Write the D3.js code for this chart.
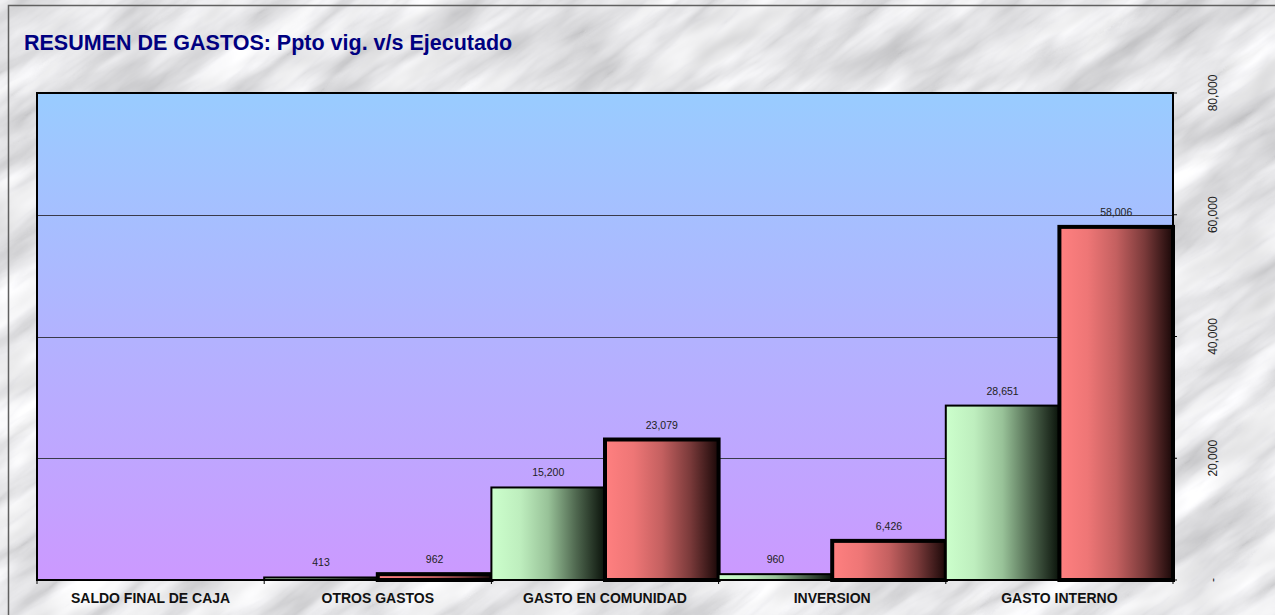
<!DOCTYPE html>
<html><head><meta charset="utf-8">
<script src="https://cdn.jsdelivr.net/npm/d3@7"></script>
<style>html,body{margin:0;padding:0;background:#fff;}svg{display:block;}</style>
</head><body>
<svg id="chart" width="1275" height="615"></svg>
<script>
const categories = ["SALDO FINAL DE CAJA","OTROS GASTOS","GASTO EN COMUNIDAD","INVERSION","GASTO INTERNO"];
const pptoVig = [0, 413, 15200, 960, 28651];
const ejecutado = [0, 962, 23079, 6426, 58006];
const yTicks = [0, 20000, 40000, 60000, 80000];
const titleText = "RESUMEN DE GASTOS: Ppto vig. v/s Ejecutado";

const W = 1275, H = 615;
const m = {left: 37, top: 93, right: 1173, bottom: 580};
const svg = d3.select("#chart");
const defs = svg.append("defs");

// marble-like background
const f = defs.append("filter").attr("id","marble").attr("x",0).attr("y",0).attr("width","100%").attr("height","100%");
f.append("feTurbulence").attr("type","turbulence").attr("baseFrequency","0.004 0.02").attr("numOctaves",5).attr("seed",11).attr("result","n");
f.append("feColorMatrix").attr("in","n").attr("type","matrix").attr("result","veins")
 .attr("values","0.55 0.1 0 0 0.7  0.55 0.1 0 0 0.7  0.55 0.1 0 0 0.71  0 0 0 0 1");
f.append("feTurbulence").attr("type","fractalNoise").attr("baseFrequency","0.01 0.03").attr("numOctaves",3).attr("seed",3).attr("result","n2");
f.append("feColorMatrix").attr("in","n2").attr("type","matrix").attr("result","mottle")
 .attr("values","0.5 0 0 0 0.62  0.5 0 0 0 0.62  0.5 0 0 0 0.63  0 0 0 0 1");
f.append("feBlend").attr("in","veins").attr("in2","mottle").attr("mode","multiply");
const bgClip = defs.append("clipPath").attr("id","bgclip");
bgClip.append("rect").attr("width",W).attr("height",H);
svg.append("g").attr("clip-path","url(#bgclip)")
  .append("rect").attr("x",-500).attr("y",-500).attr("width",W+1000).attr("height",H+1000)
  .attr("transform",`rotate(-35 ${W/2} ${H/2})`).attr("filter","url(#marble)");
svg.append("rect").attr("x",8.5).attr("y",5.5).attr("width",W+20).attr("height",H+20)
  .attr("fill","none").attr("stroke","#606060").attr("stroke-width",1.5);

// gradients
const pg = defs.append("linearGradient").attr("id","plotg").attr("x1",0).attr("y1",0).attr("x2",0).attr("y2",1);
pg.append("stop").attr("offset","0%").attr("stop-color","#99CCFF");
pg.append("stop").attr("offset","100%").attr("stop-color","#CC99FF");
function hgrad(id, stops){
  const g = defs.append("linearGradient").attr("id",id).attr("x1",0).attr("y1",0).attr("x2",1).attr("y2",0);
  stops.forEach(s=>g.append("stop").attr("offset",s[0]).attr("stop-color",s[1]));
}
hgrad("greenG",[["0%","#CCFFCC"],["25%","#BEEEBE"],["50%","#98C298"],["75%","#4E664E"],["100%","#0A120A"]]);
hgrad("redG",[["0%","#FF8080"],["25%","#EE7676"],["50%","#C46060"],["75%","#7A3A3A"],["100%","#1A0808"]]);

const x = d3.scaleBand().domain(categories).range([m.left, m.right]).paddingInner(0).paddingOuter(0);
const x1 = d3.scaleBand().domain(["p","e"]).range([0, x.bandwidth()]).padding(0);
const y = d3.scaleLinear().domain([0, 80000]).range([m.bottom, m.top]);

// plot area
svg.append("rect").attr("x",m.left).attr("y",m.top).attr("width",m.right-m.left).attr("height",m.bottom-m.top)
  .attr("fill","url(#plotg)");
// gridlines
svg.append("g").selectAll("line").data(yTicks.filter(t=>t>0 && t<80000)).join("line")
  .attr("x1",m.left).attr("x2",m.right).attr("y1",d=>Math.round(y(d))+0.5).attr("y2",d=>Math.round(y(d))+0.5)
  .attr("stroke","#3a3a4a").attr("stroke-width",1);

// bars
const rows = categories.map((c,i)=>({c, p:pptoVig[i], e:ejecutado[i]}));
const g = svg.append("g");
rows.forEach(r=>{
  const bx = x(r.c);
  if (r.p > 0) {
    g.append("rect").attr("x",bx + x1("p")).attr("y",y(r.p)).attr("width",x1.bandwidth()).attr("height",m.bottom - y(r.p))
      .attr("fill","url(#greenG)").attr("stroke","#000").attr("stroke-width",2);
  }
  if (r.e > 0) {
    g.append("rect").attr("x",bx + x1("e")).attr("y",y(r.e)).attr("width",x1.bandwidth()).attr("height",m.bottom - y(r.e))
      .attr("fill","url(#redG)").attr("stroke","#000").attr("stroke-width",4);
  }
});

// plot border
svg.append("rect").attr("x",m.left).attr("y",m.top).attr("width",m.right-m.left).attr("height",m.bottom-m.top)
  .attr("fill","none").attr("stroke","#000").attr("stroke-width",2);

// data labels
const fmt = d3.format(",");
const lbl = svg.append("g").attr("font-family","'Liberation Sans', Arial, sans-serif").attr("font-size",10.5).attr("fill","#222").attr("text-anchor","middle");
rows.forEach(r=>{
  [["p",r.p],["e",r.e]].forEach(([k,v])=>{
    if (v > 0) lbl.append("text").attr("x",x(r.c)+x1(k)+x1.bandwidth()/2).attr("y",y(v)-11).text(fmt(v));
  });
});

// x axis
const xa = svg.append("g").attr("transform",`translate(0,${m.bottom})`);
xa.selectAll("line").data(d3.range(categories.length+1)).join("line")
  .attr("x1",i=>m.left + i*x.bandwidth()).attr("x2",i=>m.left + i*x.bandwidth()).attr("y1",0).attr("y2",4)
  .attr("stroke","#000");
xa.selectAll("text").data(categories).join("text")
  .attr("x",d=>x(d)+x.bandwidth()/2).attr("y",23).attr("text-anchor","middle")
  .attr("font-family","'Liberation Sans', Arial, sans-serif").attr("font-weight","bold").attr("font-size",14).attr("fill","#111")
  .text(d=>d);

// right y axis
const ya = svg.append("g").attr("transform",`translate(${m.right},0)`);
ya.selectAll("line").data(yTicks).join("line")
  .attr("x1",0).attr("x2",4).attr("y1",d=>y(d)).attr("y2",d=>y(d)).attr("stroke","#000");
ya.selectAll("text").data(yTicks).join("text")
  .attr("transform",d=>`translate(40,${y(d)}) rotate(-90)`).attr("text-anchor","middle").attr("dy","0.35em")
  .attr("font-family","'Liberation Sans', Arial, sans-serif").attr("font-size",12).attr("fill","#222")
  .text(d=>d===0?"-":fmt(d));

// title
svg.append("text").attr("x",24).attr("y",50).attr("font-family","'Liberation Sans', Arial, sans-serif")
  .attr("font-weight","bold").attr("font-size",21.5).attr("fill","#000080").text(titleText);
</script>
</body></html>
